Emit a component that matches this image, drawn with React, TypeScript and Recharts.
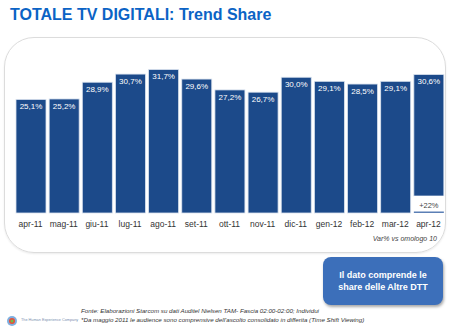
import { BarChart, Bar, XAxis, YAxis, LabelList } from 'recharts';

const MONTHS = ['apr-11', 'mag-11', 'giu-11', 'lug-11', 'ago-11', 'set-11', 'ott-11', 'nov-11', 'dic-11', 'gen-12', 'feb-12', 'mar-12', 'apr-12'];
const SHARE = [25.1, 25.2, 28.9, 30.7, 31.7, 29.6, 27.2, 26.7, 30.0, 29.1, 28.5, 29.1, 30.6];
const LAST_VAR = '+22%';

const BLUE = '#1c4a8a';
const FONT = 'Arial, "Liberation Sans", sans-serif';

const data = MONTHS.map((m, i) => ({ month: m, share: SHARE[i] }));

const fmt = (v: number) => v.toFixed(1).replace('.', ',') + '%';

// last bar carries a white strip with the year-on-year variation
const BarShape = (props: any) => {
  const { x, y, width, height, index } = props;
  if (index !== SHARE.length - 1) {
    return <rect x={x} y={y} width={width} height={height} fill={BLUE} stroke="#d9e2ee" strokeWidth={0.8} />;
  }
  const strip = 17;
  return (
    <g>
      <rect x={x} y={y} width={width} height={height - strip} fill={BLUE} stroke="#d9e2ee" strokeWidth={0.8} />
      <rect x={x} y={y + height - strip} width={width} height={strip} fill="#fff" />
      <rect x={x} y={y + height - 1.5} width={width} height={1.5} fill="#5b7fb5" />
      <text x={x + width / 2} y={y + height - 5} textAnchor="middle" fontSize={7.5} fill="#444" fontFamily={FONT}>
        {LAST_VAR}
      </text>
    </g>
  );
};

export default function App() {
  return (
    <div style={{ position: 'absolute', left: 0, top: 0, width: 450, height: 328, background: '#fff', fontFamily: FONT, overflow: 'hidden' }}>
      <div style={{ position: 'absolute', left: 10, top: 7, fontSize: 16, lineHeight: '16px', fontWeight: 'bold', color: '#0b63c5' }}>
        TOTALE TV DIGITALI: Trend Share
      </div>
      <div style={{ position: 'absolute', left: 4, top: 37, width: 440, height: 214, border: '1px solid #dcdcdc', borderRadius: 30, boxShadow: '0 1px 2px rgba(0,0,0,0.08)' }} />
      <div style={{ position: 'absolute', left: 0, top: 0 }}>
        <BarChart width={450} height={240} data={data} margin={{ top: 32, right: 5, bottom: 7, left: 14 }} barSize={30}>
          <XAxis dataKey="month" tickLine={false} axisLine={false} interval={0} tick={{ fontSize: 8.5, fill: '#333', fontFamily: FONT }} height={20} />
          <YAxis hide domain={[0, 40]} />
          <Bar dataKey="share" shape={BarShape} isAnimationActive={false}>
            <LabelList dataKey="share" position="insideTop" offset={4} formatter={(v: any) => fmt(Number(v))} style={{ fontSize: 8, fill: '#fff', fontFamily: FONT }} />
          </Bar>
        </BarChart>
      </div>
      <div style={{ position: 'absolute', right: 13, top: 235, fontSize: 7, fontStyle: 'italic', color: '#444' }}>
        Var% vs omologo 10
      </div>
      <div style={{ position: 'absolute', left: 323, top: 257, width: 120, height: 48, background: '#3c6fba', borderRadius: 8, boxShadow: '1px 2px 3px rgba(0,0,0,0.35)', color: '#fff', fontWeight: 'bold', fontSize: 9, lineHeight: '12px', textAlign: 'center', display: 'flex', flexDirection: 'column', justifyContent: 'center' }}>
        <div>Il dato comprende le</div>
        <div>share delle Altre DTT</div>
      </div>
      <div style={{ position: 'absolute', left: 81, top: 307, fontSize: 6.2, fontStyle: 'italic', color: '#333', whiteSpace: 'nowrap' }}>
        Fonte: Elaborazioni Starcom su dati Auditel Nielsen TAM- Fascia 02:00-02:00; Individui
      </div>
      <div style={{ position: 'absolute', left: 81, top: 316, fontSize: 6.2, fontStyle: 'italic', color: '#333', whiteSpace: 'nowrap' }}>
        *Da maggio 2011 le audience sono comprensive dell'ascolto consolidato in differita (Time Shift Viewing)
      </div>
      <svg style={{ position: 'absolute', left: 6, top: 315 }} width={12} height={12}>
        <circle cx={6} cy={6} r={5} fill="#7fb0e0" />
        <circle cx={6} cy={6} r={3} fill="#e94f3a" />
        <circle cx={6} cy={6} r={1.5} fill="#6abf4b" />
      </svg>
      <div style={{ position: 'absolute', left: 21, top: 318, fontSize: 3.8, color: '#7a8fb0', whiteSpace: 'nowrap' }}>
        The Human Experience Company
      </div>
    </div>
  );
}
